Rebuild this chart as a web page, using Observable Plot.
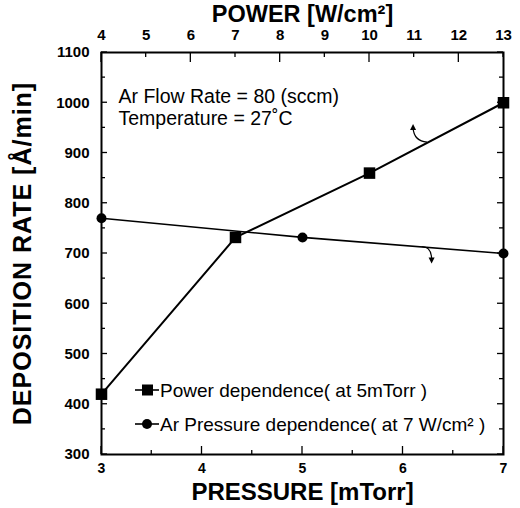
<!DOCTYPE html>
<html><head><meta charset="utf-8">
<script src="https://cdn.jsdelivr.net/npm/d3@7"></script>
<script src="https://cdn.jsdelivr.net/npm/@observablehq/plot@0.6"></script>
<style>body{margin:0;background:#fff}</style>
</head><body><div id="chart"></div>
<script>
// Power dependence (top axis, W/cm²)
const powerValues = [4, 7, 10, 13];
const powerRates = [420, 732, 860, 1000];
// Ar pressure dependence (bottom axis, mTorr)
const pressureValues = [3, 5, 7];
const pressureRates = [770, 732, 700];

const pressureTicks = [3, 4, 5, 6, 7];
const pressureMinorTicks = [3.5, 4.5, 5.5, 6.5];
const powerTicks = [4, 5, 6, 7, 8, 9, 10, 11, 12, 13];
const powerMajorTicks = [4, 6, 8, 10, 12];
const rateTicks = [300, 400, 500, 600, 700, 800, 900, 1000, 1100];
const rateMinorTicks = [350, 450, 550, 650, 750, 850, 950, 1050];

const xTitle = "PRESSURE [mTorr]";
const topTitle = "POWER [W/cm²]";
const yTitle = "DEPOSITION RATE [Å/min]";
const notes = ["Ar Flow Rate = 80 (sccm)", "Temperature = 27˚C"];
const legendLabels = ["Power dependence( at 5mTorr )", "Ar Pressure dependence( at 7 W/cm² )"];
// arrow anchor points on each curve
const powerArrowAt = 11.3;
const pressureArrowAt = 6.19;

const powerToPressure = d3.scaleLinear([4, 13], [3, 7]);
const powerData = powerValues.map((p, i) => ({x: powerToPressure(p), y: powerRates[i]}));
const pressureData = pressureValues.map((p, i) => ({x: p, y: pressureRates[i]}));

const font = "'Liberation Sans', Arial, sans-serif";

function decorations(index, scales, values, dims) {
  const {x, y} = scales;
  const g = d3.create("svg:g").attr("fill", "none").attr("stroke", "black");
  const top = dims.marginTop, bottom = dims.height - dims.marginBottom;
  const left = dims.marginLeft, right = dims.width - dims.marginRight;
  const tick = (x1, y1, x2, y2, w = 1.3) => g.append("line").attr("x1", x1).attr("y1", y1).attr("x2", x2).attr("y2", y2).attr("stroke-width", w);
  for (const v of pressureTicks) tick(x(v), bottom, x(v), bottom - 8);
  for (const v of pressureMinorTicks) tick(x(v), bottom, x(v), bottom - 4);
  for (const v of powerTicks) {
    const len = powerMajorTicks.includes(v) ? 10 : 5;
    tick(x(powerToPressure(v)), top, x(powerToPressure(v)), top + len);
  }
  for (const v of rateTicks) { tick(left, y(v), left + 6, y(v)); tick(right, y(v), right - 6, y(v)); }
  for (const v of rateMinorTicks) { tick(left, y(v), left + 4, y(v)); tick(right, y(v), right - 4, y(v)); }

  // curved arrows
  const interp = (xs, ys, v) => {
    for (let i = 0; i < xs.length - 1; i++) if (v >= xs[i] && v <= xs[i + 1])
      return ys[i] + (v - xs[i]) / (xs[i + 1] - xs[i]) * (ys[i + 1] - ys[i]);
  };
  const sx = x(powerToPressure(powerArrowAt)), sy = y(interp(powerValues, powerRates, powerArrowAt));
  g.append("path").attr("d", `M${sx},${sy}Q${sx - 13},${sy - 1} ${sx - 14},${sy - 14}`).attr("stroke-width", 1.2);
  g.append("path").attr("d", `M${sx - 14},${sy - 18}L${sx - 17},${sy - 12}L${sx - 11},${sy - 12}Z`).attr("fill", "black").attr("stroke", "none");
  const px = x(pressureArrowAt), py = y(interp(pressureValues, pressureRates, pressureArrowAt));
  g.append("path").attr("d", `M${px},${py}Q${px + 10},${py} ${px + 10},${py + 13}`).attr("stroke-width", 1.2);
  g.append("path").attr("d", `M${px + 10},${py + 17}L${px + 7},${py + 11}L${px + 13},${py + 11}Z`).attr("fill", "black").attr("stroke", "none");

  // legend
  const lg = g.append("g");
  const rows = [bottom - 64, bottom - 30];
  rows.forEach((ry, i) => {
    lg.append("line").attr("x1", left + 34).attr("x2", left + 58).attr("y1", ry).attr("y2", ry).attr("stroke-width", 1.6);
    if (i === 0) lg.append("rect").attr("x", left + 41).attr("y", ry - 5.5).attr("width", 11).attr("height", 11).attr("fill", "black").attr("stroke", "none");
    else lg.append("circle").attr("cx", left + 46).attr("cy", ry).attr("r", 5).attr("fill", "black").attr("stroke", "none");
    lg.append("text").attr("x", left + 59).attr("y", ry).attr("dy", "0.35em").attr("fill", "black").attr("stroke", "none")
      .attr("text-anchor", "start").attr("font-size", 19).attr("font-weight", "normal").text(legendLabels[i]);
  });
  return g.node();
}

const chart = Plot.plot({
  width: 520,
  height: 508,
  marginLeft: 101,
  marginRight: 17,
  marginTop: 52,
  marginBottom: 54,
  style: {fontFamily: font, fontWeight: "bold", color: "black", background: "white"},
  x: {domain: [3, 7]},
  y: {domain: [300, 1100]},
  marks: [
    Plot.axisX(pressureTicks, {anchor: "bottom", tickSize: 0, tickPadding: 9, fontSize: 14, fontWeight: "bold", label: null}),
    Plot.axisX(powerTicks.map(powerToPressure), {anchor: "top", tickSize: 0, tickPadding: 13, fontSize: 15, fontWeight: "bold", label: null,
      tickFormat: d => String(Math.round(powerToPressure.invert(d)))}),
    Plot.axisY(rateTicks, {anchor: "left", tickSize: 0, tickPadding: 12, fontSize: 15, fontWeight: "bold", label: null, tickFormat: d => String(d)}),
    Plot.frame({strokeWidth: 2}),
    Plot.line(pressureData, {x: "x", y: "y", strokeWidth: 1.6}),
    Plot.line(powerData, {x: "x", y: "y", strokeWidth: 2}),
    Plot.dot(pressureData, {x: "x", y: "y", r: 5, fill: "black", stroke: null}),
    Plot.dot(powerData, {x: "x", y: "y", symbol: "square", r: 6.5, fill: "black", stroke: null}),
    decorations,
    Plot.text([notes.join("\n")], {frameAnchor: "top-left", textAnchor: "start", lineAnchor: "top", dx: 17, dy: 35, lineHeight: 1.13, fontSize: 19.5, fontWeight: "normal"}),
    Plot.text([xTitle], {frameAnchor: "bottom", lineAnchor: "middle", dy: 38, fontSize: 24, fontWeight: "bold"}),
    Plot.text([topTitle], {frameAnchor: "top", lineAnchor: "middle", dy: -38, fontSize: 23.5, fontWeight: "bold"}),
    Plot.text([yTitle], {frameAnchor: "left", textAnchor: "middle", rotate: -90, lineAnchor: "middle", dx: -79, fontSize: 25, fontWeight: "bold"})
  ]
});
// slight letter spacing on the rotated title to match the reference's wider face
d3.select(chart).selectAll("text").filter(function() { return this.textContent === yTitle; }).attr("letter-spacing", 1);
document.getElementById("chart").appendChild(chart);
</script>
</body></html>
